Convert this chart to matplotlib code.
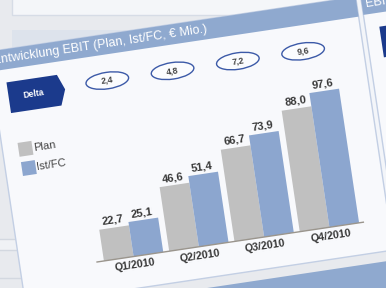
import matplotlib
matplotlib.use("Agg")
import numpy as np
import matplotlib.pyplot as plt
from matplotlib.patches import Rectangle, Polygon, Ellipse
from matplotlib.transforms import Affine2D

# ---- data ----
categories = ["Q1/2010", "Q2/2010", "Q3/2010", "Q4/2010"]
plan = [22.7, 46.6, 66.7, 88.0]
ist_fc = [25.1, 51.4, 73.9, 97.6]
delta = [2.4, 4.8, 7.2, 9.6]
series_names = ["Plan", "Ist/FC"]
title = "Entwicklung EBIT (Plan, Ist/FC, € Mio.)"
delta_label = "Delta"


def de(v):
    return f"{v:.1f}".replace(".", ",")


plt.rcParams['font.family'] = ['Liberation Sans', 'DejaVu Sans']

GREY = '#c0c0c0'
BLUE = '#8ca6cf'
BAND = '#8fa9cf'
NAVY = '#1b3a8c'
SLIDE = '#f8f9fc'
TXT = '#383838'

fig = plt.figure(figsize=(3.86, 2.88), dpi=100)
ax = fig.add_axes([0, 0, 1, 1])
ax.axis('off')
fig.patch.set_facecolor('#e8eaee')

# ---- unrotated background (slide underneath) ----
ax.add_patch(Rectangle((0, 0), 386, 288, color='#e8eaee', zorder=0))
ax.add_patch(Rectangle((12, 273), 380, 20, facecolor='#f4f6f9',
                       edgecolor='#d6dce6', lw=1, zorder=1))
ax.add_patch(Rectangle((12, 140), 380, 118, facecolor='#dde3ec',
                       edgecolor='none', zorder=1))
ax.add_patch(Rectangle((0, 38), 60, 11, facecolor='#f0f2f5',
                       edgecolor='none', zorder=1))
for yy in [49, 38, 10]:
    ax.plot([0, 60], [yy, yy], color='#d3d8e0', lw=1, zorder=1)

# ---- rotated slide ----
ANG = 8.5
rot = Affine2D().rotate_deg_around(97, 26, ANG) + ax.transData

# footer blue band
ax.add_patch(Rectangle((-60, -90), 560, 74, facecolor=BAND,
                       edgecolor='none', transform=rot, zorder=2))
# gap between panels
ax.add_patch(Rectangle((388, -16), 14, 276, facecolor='#f3f5f9',
                       edgecolor='none', transform=rot, zorder=2))
# main panel
ax.add_patch(Rectangle((20, -6), 372, 256, facecolor=SLIDE,
                       edgecolor='#c3cfe4', lw=1, transform=rot, zorder=2))
ax.add_patch(Rectangle((20, 230), 372, 20, facecolor=BAND,
                       edgecolor='none', transform=rot, zorder=3))
ax.text(24, 240, title, transform=rot, rotation=ANG, rotation_mode='anchor',
        ha='left', va='center', color='white', fontsize=9, zorder=4)
# right panel
ax.add_patch(Rectangle((397, -6), 300, 256, facecolor=SLIDE,
                       edgecolor='#c3cfe4', lw=1, transform=rot, zorder=2))
ax.add_patch(Rectangle((397, 231), 300, 20, facecolor=BAND,
                       edgecolor='none', transform=rot, zorder=3))
ax.text(401, 241, "EBIT", transform=rot, rotation=ANG, rotation_mode='anchor',
        ha='left', va='center', color='white', fontsize=9, zorder=4)
ax.add_patch(Rectangle((411, 186), 60, 31, facecolor=NAVY,
                       edgecolor='none', transform=rot, zorder=3))

# delta box
ax.add_patch(Polygon([(34, 186), (34, 217), (85, 217), (91, 201.5), (85, 186)],
                     closed=True, facecolor=NAVY, edgecolor='none',
                     transform=rot, zorder=3))
ax.text(59, 201.5, delta_label, transform=rot, rotation=ANG,
        rotation_mode='anchor', ha='center', va='center', color='white',
        fontsize=6.2, fontweight='bold', zorder=4)

# legend
for k, (name, col) in enumerate(zip(series_names, [GREY, BLUE])):
    y0 = 141.5 - 19.5 * k
    ax.add_patch(Rectangle((36 + 0.5 * k, y0), 14, 14, facecolor=col,
                           edgecolor='none', transform=rot, zorder=4))
    ax.text(51 + 0.5 * k, y0 + 7, name, transform=rot, rotation=ANG,
            rotation_mode='anchor', ha='left', va='center', color='#444444',
            fontsize=8, zorder=4)

# ---- bar chart in rotated frame ----
SX, SY = 66.0, 1.39
bar_tf = Affine2D().scale(SX, SY).translate(134, 26) + rot
x = np.arange(len(categories))
off = 15 / SX
w = 30 / SX

ax.bar(x - off, plan, width=w, color=GREY, transform=bar_tf, zorder=5,
       linewidth=0)
ax.bar(x + off, ist_fc, width=w, color=BLUE, transform=bar_tf, zorder=5,
       linewidth=0)
ax.plot([-0.56, 3.52], [0, 0], color='#9a958d', lw=1, transform=bar_tf,
        zorder=6)

for i in range(len(categories)):
    for xo, v in [(-off, plan[i]), (off, ist_fc[i])]:
        ax.text(x[i] + xo, v + 1.6, de(v), transform=bar_tf, rotation=ANG,
                rotation_mode='anchor', ha='center', va='bottom',
                fontsize=8, fontweight='bold', color=TXT, zorder=7)
    ax.text(x[i], -6.5, categories[i], transform=bar_tf, rotation=ANG,
            rotation_mode='anchor', ha='center', va='center',
            fontsize=7.7, fontweight='bold', color=TXT, zorder=7)
    ax.add_patch(Ellipse((x[i], 128), 43 / SX, 16.5 / SY, facecolor='#fbfcfe',
                         edgecolor='#3c5aa8', lw=1.0, transform=bar_tf,
                         zorder=6))
    ax.text(x[i], 128, de(delta[i]), transform=bar_tf, rotation=ANG,
            rotation_mode='anchor', ha='center', va='center',
            fontsize=6.4, fontweight='bold', color='#444444', zorder=7)

ax.set_xlim(0, 386)
ax.set_ylim(0, 288)
fig.savefig("out.png", dpi=100, facecolor=fig.get_facecolor())
